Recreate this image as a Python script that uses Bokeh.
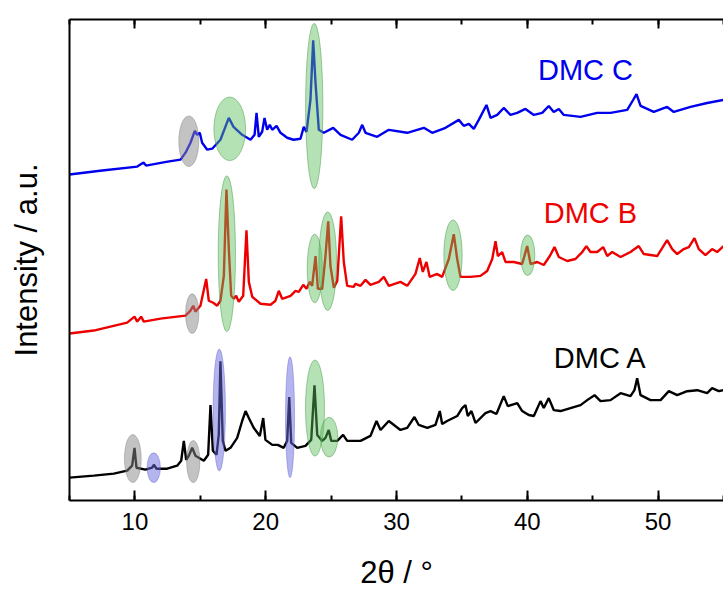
from bokeh.plotting import figure
from bokeh.models import Range1d, LinearAxis, SingleIntervalTicker, FixedTicker
from bokeh.core.properties import value
from bokeh.embed import file_html
from bokeh.resources import INLINE

# ---- DMC C (blue) ----
c_x = [5.0, 7.5, 10.18, 10.66, 10.85, 12.5, 13.49, 13.87, 14.25, 14.58, 14.76, 14.96, 15.14, 15.53, 15.91,
       16.54, 17.18, 17.54, 18.20, 18.84, 19.15, 19.30, 19.47, 19.73, 19.91, 20.11, 20.31, 20.50, 20.83,
       21.13, 21.64, 22.12, 22.66, 22.91, 23.12, 23.42, 23.63, 23.81, 24.06, 24.44, 25.16, 25.72, 26.61,
       27.12, 27.38, 27.63, 28.52, 29.41, 30.82, 32.09, 32.73, 33.75, 34.76, 35.14, 35.53, 35.91, 36.29,
       36.88, 37.19, 37.70, 38.20, 38.71, 39.23, 39.86, 40.50, 41.14, 41.64, 42.02, 42.41, 42.79, 44.07,
       45.34, 46.36, 47.64, 48.09, 48.35, 48.66, 49.67, 50.69, 51.20, 52.48, 53.75, 55.0]
c_y = [328, 332, 336, 340, 337, 341, 343, 350, 360, 372, 368, 370, 360, 353, 354,
       363, 385, 376, 368, 363, 368, 390, 366, 371, 385, 373, 378, 373, 377,
       370, 365, 363, 364, 376, 371, 403, 463, 420, 373, 370, 375, 368, 363,
       370, 378, 370, 366, 373, 370, 375, 370, 375, 383, 377, 379, 374, 383,
       398, 385, 388, 395, 388, 390, 394, 388, 390, 397, 391, 394, 388, 386,
       390, 390, 393, 403, 409, 397, 391, 396, 391, 396, 400, 403]

# ---- DMC B (red) ----
b_x = [5.0, 6.86, 8.13, 9.41, 9.97, 10.18, 10.48, 10.68, 11.96, 13.23, 13.87, 14.25, 14.46, 14.63, 15.01,
       15.45, 15.65, 15.99, 16.29, 16.54, 16.80, 17.00, 17.18, 17.36, 17.56, 17.74, 17.94, 18.28, 18.53,
       18.71, 18.97, 19.60, 20.37, 20.75, 21.00, 21.26, 21.90, 22.28, 22.53, 22.87, 23.12, 23.37, 23.55,
       23.81, 23.99, 24.32, 24.57, 24.78, 24.95, 25.21, 25.47, 25.77, 25.97, 26.23, 26.73, 26.86, 27.25,
       27.63, 28.01, 28.65, 29.03, 29.41, 30.30, 30.82, 31.45, 31.78, 32.01, 32.29, 32.54, 33.11, 33.49,
       34.00, 34.38, 34.64, 34.89, 35.66, 36.42, 36.93, 37.32, 37.57, 37.75, 38.08, 38.33, 38.97, 39.61,
       39.99, 40.25, 40.76, 41.26, 41.72, 42.08, 42.41, 43.05, 43.68, 44.20, 44.52, 44.83, 45.34, 45.80,
       46.11, 46.49, 47.13, 47.89, 48.52, 48.91, 49.93, 50.69, 51.08, 51.46, 51.96, 52.35, 52.78, 53.11,
       53.62, 54.13, 54.51, 55.0]
b_y = [168, 171, 175, 179, 185, 180, 185, 180, 183, 185, 186, 191, 196, 190, 196,
       223, 201, 199, 196, 201, 226, 313, 253, 206, 203, 206, 200, 206, 272,
       220, 205, 198, 197, 201, 211, 203, 206, 211, 210, 217, 213, 220, 216,
       246, 213, 213, 246, 281, 236, 214, 221, 286, 240, 216, 215, 218, 216,
       222, 217, 220, 225, 216, 220, 216, 228, 244, 230, 240, 225, 228, 225,
       243, 268, 243, 225, 225, 226, 231, 243, 261, 246, 250, 240, 240, 238,
       256, 238, 240, 237, 246, 255, 245, 241, 243, 250, 256, 250, 250, 255,
       246, 250, 245, 250, 256, 248, 246, 262, 253, 248, 253, 255, 264, 253,
       247, 253, 250, 256]

# ---- DMC A (black) ----
a_x = [5.0, 6.86, 8.39, 9.41, 9.79, 9.97, 10.12, 10.81, 11.32, 11.45, 11.65, 12.47, 13.23, 13.54, 13.74,
       13.92, 14.12, 14.38, 14.63, 15.27, 15.60, 15.78, 15.96, 16.24, 16.41, 16.54, 16.72, 16.93, 17.31,
       17.82, 18.20, 18.46, 18.71, 19.09, 19.55, 19.81, 19.98, 20.50, 20.92, 21.38, 21.64, 21.80, 21.95,
       22.41, 23.04, 23.48, 23.73, 23.94, 24.32, 24.57, 24.82, 25.01, 25.47, 25.92, 26.23, 27.25, 28.01,
       28.47, 28.78, 29.41, 30.30, 30.82, 31.37, 31.70, 32.35, 32.98, 33.31, 33.49, 33.87, 34.64, 35.02,
       35.27, 35.45, 35.73, 36.04, 36.80, 37.19, 37.64, 38.20, 38.51, 39.23, 39.61, 40.11, 40.50, 41.01,
       41.26, 41.64, 42.02, 42.54, 43.30, 44.07, 44.58, 45.14, 45.60, 46.36, 47.13, 47.89, 48.19, 48.40,
       48.66, 49.42, 50.19, 50.82, 51.46, 52.22, 52.99, 53.75, 54.13, 54.64, 55.0]
a_y = [23, 25, 27, 30, 35, 53, 33, 31, 33, 36, 32, 32, 35, 40, 60,
       41, 45, 53, 45, 40, 46, 96, 50, 46, 66, 140, 60, 50, 53,
       63, 80, 90, 83, 73, 65, 83, 61, 56, 56, 53, 60, 104, 58,
       53, 55, 61, 116, 66, 60, 63, 71, 60, 60, 66, 60, 60, 65,
       80, 71, 80, 71, 73, 84, 76, 73, 76, 90, 77, 80, 85, 93,
       96, 85, 90, 78, 88, 90, 87, 105, 95, 98, 90, 86, 85, 100,
       93, 103, 91, 90, 93, 96, 101, 106, 100, 101, 108, 105, 111, 123,
       106, 101, 101, 110, 106, 110, 111, 108, 113, 110, 111]

# ---- highlight ellipses (centre 2theta, centre intensity, width in deg, height) ----
grey_x = [14.12, 14.38, 9.84, 14.46]
grey_y = [361.5, 188, 42.2, 39.2]
grey_w = [1.53, 1.02, 1.28, 1.02]
grey_h = [51, 40, 48.3, 42.3]

green_x = [17.25, 23.71, 17.03, 23.75, 24.74, 34.32, 40.03, 23.77, 24.85]
green_y = [374, 397, 248.3, 233.5, 240.8, 246.8, 246.7, 93, 63.7]
green_w = [2.42, 1.32, 1.32, 1.15, 1.35, 1.40, 1.09, 1.45, 1.32]
green_h = [64, 166, 157, 69, 99, 71, 40.7, 96.7, 40]

blue_x = [11.44, 16.45, 21.86]
blue_y = [33, 91, 83.8]
blue_w = [1.02, 0.94, 0.69]
blue_h = [30, 122.7, 121.7]

labels = ["DMC C", "DMC B", "DMC A"]
label_x = [44.45, 44.83, 45.6]
label_y = [433, 289, 143]
label_colors = ["#0000ee", "#ee0000", "#000000"]

FONT = "Liberation Sans"

p = figure(width=723, height=592, x_range=Range1d(5, 55), y_range=Range1d(0, 484),
           output_backend="svg", toolbar_location=None,
           min_border_left=69, min_border_right=0, min_border_top=19, min_border_bottom=89)
p.outline_line_color = None
p.xgrid.visible = False
p.ygrid.visible = False
p.background_fill_color = "white"
p.border_fill_color = "white"

p.line(c_x, c_y, line_color="#0000ee", line_width=2.4)
p.line(b_x, b_y, line_color="#ee0000", line_width=2.4)
p.line(a_x, a_y, line_color="#000000", line_width=2.4)

p.ellipse(x=grey_x, y=grey_y, width=grey_w, height=grey_h,
          fill_color="#888888", fill_alpha=0.5, line_color="#777777", line_alpha=0.4, line_width=1)
p.ellipse(x=green_x, y=green_y, width=green_w, height=green_h,
          fill_color="#5cbf5c", fill_alpha=0.45, line_color="#4a9a4a", line_alpha=0.5, line_width=1)
p.ellipse(x=blue_x, y=blue_y, width=blue_w, height=blue_h,
          fill_color="#6a6ae0", fill_alpha=0.5, line_color="#5a5acc", line_alpha=0.4, line_width=1)

p.text(x=label_x, y=label_y, text=labels, text_color=label_colors,
       text_font=value(FONT), text_font_size="29px", text_align="center", text_baseline="middle")

xa = p.xaxis[0]
xa.ticker = SingleIntervalTicker(interval=10, num_minor_ticks=2)
xa.major_tick_in = 10
xa.major_tick_out = 0
xa.minor_tick_in = 5
xa.minor_tick_out = 0
xa.axis_line_width = 2
xa.axis_line_color = "black"
xa.major_tick_line_color = "black"
xa.minor_tick_line_color = "black"
xa.major_tick_line_width = 2
xa.minor_tick_line_width = 2
xa.major_label_text_font = FONT
xa.major_label_text_font_size = "24px"
xa.major_label_text_color = "black"
xa.major_label_standoff = 12
xa.axis_label = "2θ / °"
xa.axis_label_text_font = FONT
xa.axis_label_text_font_size = "31px"
xa.axis_label_text_font_style = "normal"
xa.axis_label_text_color = "black"
xa.axis_label_standoff = 22

ya = p.yaxis[0]
ya.ticker = FixedTicker(ticks=[])
ya.major_tick_in = 0
ya.major_tick_out = 0
ya.minor_tick_in = 0
ya.minor_tick_out = 0
ya.major_label_standoff = 0
ya.axis_line_width = 2
ya.axis_line_color = "black"
ya.axis_label = "Intensity / a.u."
ya.axis_label_text_font = FONT
ya.axis_label_text_font_size = "31px"
ya.axis_label_text_font_style = "normal"
ya.axis_label_text_color = "black"
ya.axis_label_standoff = 26

top = LinearAxis(ticker=SingleIntervalTicker(interval=10, num_minor_ticks=2),
                 major_tick_in=9, major_tick_out=0, minor_tick_in=5, minor_tick_out=0,
                 axis_line_width=2, major_tick_line_width=2, minor_tick_line_width=2,
                 axis_line_color="black", major_tick_line_color="black", minor_tick_line_color="black",
                 major_label_text_color=None, major_label_text_font_size="1px",
                 major_label_standoff=0)
p.add_layout(top, "above")

open("out.html", "w").write(file_html(p, INLINE))
